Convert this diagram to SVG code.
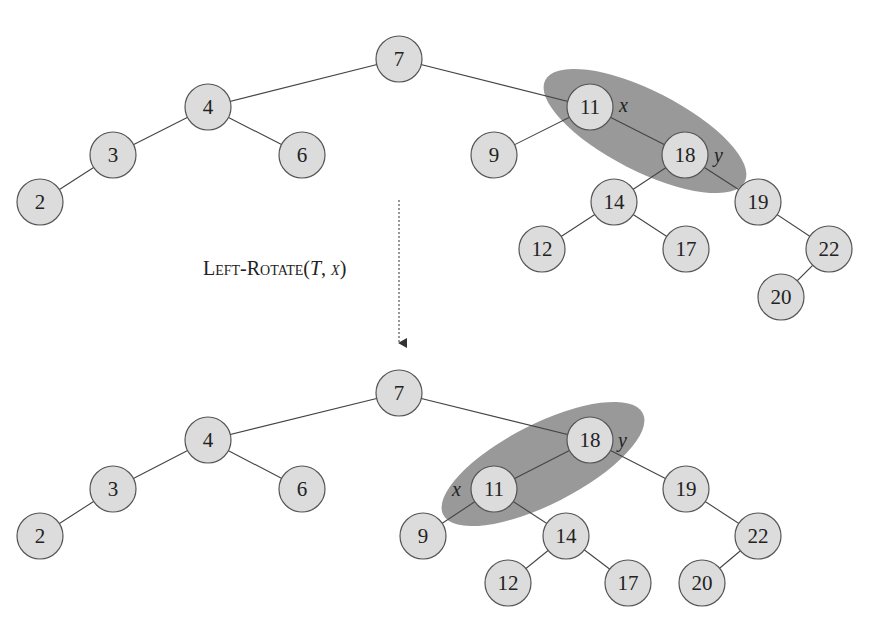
<svg xmlns="http://www.w3.org/2000/svg" width="878" height="618" viewBox="0 0 878 618">
<style>
.n circle{fill:#dcdcdc;stroke:#555;stroke-width:1.2}
.n text{font-family:"Liberation Serif",serif;font-size:21px;text-anchor:middle;fill:#222}
.e line{stroke:#444;stroke-width:1.1}
.lab{font-family:"Liberation Serif",serif;font-style:italic;font-size:20px;fill:#222}
</style>
<defs><marker id="ah" markerWidth="10" markerHeight="10" refX="5" refY="8" orient="auto" markerUnits="userSpaceOnUse"><path d="M0,0 L10,0 L5,9 Z" fill="#333"/></marker></defs>
<rect width="878" height="618" fill="#fff"/>
<ellipse cx="645" cy="131" rx="112" ry="40" transform="rotate(27 645 131)" fill="#999"/>
<ellipse cx="543" cy="464" rx="112" ry="40" transform="rotate(-27 543 464)" fill="#999"/>
<g class="e" id="connectors">
<line x1="399" y1="59" x2="208" y2="107"/><line x1="399" y1="59" x2="590" y2="107"/>
<line x1="208" y1="107" x2="113" y2="155"/><line x1="208" y1="107" x2="302" y2="155"/>
<line x1="113" y1="155" x2="40" y2="202"/>
<line x1="590" y1="107" x2="494" y2="155"/><line x1="590" y1="107" x2="685" y2="155"/>
<line x1="685" y1="155" x2="614" y2="202"/><line x1="685" y1="155" x2="758" y2="202"/>
<line x1="614" y1="202" x2="542" y2="249"/><line x1="614" y1="202" x2="686" y2="249"/>
<line x1="758" y1="202" x2="829" y2="249"/><line x1="829" y1="249" x2="781" y2="297"/>
<line x1="399" y1="393" x2="208" y2="440"/><line x1="399" y1="393" x2="590" y2="440"/>
<line x1="208" y1="440" x2="113" y2="489"/><line x1="208" y1="440" x2="302" y2="489"/>
<line x1="113" y1="489" x2="40" y2="536"/>
<line x1="590" y1="440" x2="494" y2="489"/><line x1="590" y1="440" x2="686" y2="489"/>
<line x1="494" y1="489" x2="423" y2="536"/><line x1="494" y1="489" x2="566" y2="536"/>
<line x1="566" y1="536" x2="508" y2="583"/><line x1="566" y1="536" x2="628" y2="583"/>
<line x1="686" y1="489" x2="758" y2="536"/><line x1="758" y1="536" x2="702" y2="583"/>
<line x1="399" y1="200" x2="399" y2="343" stroke-dasharray="2,2" stroke-width="2" marker-end="url(#ah)"/>
</g>
<g class="n" id="t7"><circle cx="399" cy="59" r="23"/><text x="399" y="66">7</text></g>
<g class="n" id="t4"><circle cx="208" cy="107" r="23"/><text x="208" y="114">4</text></g>
<g class="n" id="t6"><circle cx="302" cy="155" r="23"/><text x="302" y="162">6</text></g>
<g class="n" id="t3"><circle cx="113" cy="155" r="23"/><text x="113" y="162">3</text></g>
<g class="n" id="t2"><circle cx="40" cy="202" r="23"/><text x="40" y="209">2</text></g>
<g class="n" id="t11"><circle cx="590" cy="107" r="23"/><text x="590" y="114">11</text></g>
<g class="n" id="t9"><circle cx="494" cy="155" r="23"/><text x="494" y="162">9</text></g>
<g class="n" id="t18"><circle cx="685" cy="155" r="23"/><text x="685" y="162">18</text></g>
<g class="n" id="t14"><circle cx="614" cy="202" r="23"/><text x="614" y="209">14</text></g>
<g class="n" id="t19"><circle cx="758" cy="202" r="23"/><text x="758" y="209">19</text></g>
<g class="n" id="t12"><circle cx="542" cy="249" r="23"/><text x="542" y="256">12</text></g>
<g class="n" id="t17"><circle cx="686" cy="249" r="23"/><text x="686" y="256">17</text></g>
<g class="n" id="t22"><circle cx="829" cy="249" r="23"/><text x="829" y="256">22</text></g>
<g class="n" id="t20"><circle cx="781" cy="297" r="23"/><text x="781" y="304">20</text></g>
<g class="n" id="b7"><circle cx="399" cy="393" r="23"/><text x="399" y="400">7</text></g>
<g class="n" id="b4"><circle cx="208" cy="440" r="23"/><text x="208" y="447">4</text></g>
<g class="n" id="b6"><circle cx="302" cy="489" r="23"/><text x="302" y="496">6</text></g>
<g class="n" id="b3"><circle cx="113" cy="489" r="23"/><text x="113" y="496">3</text></g>
<g class="n" id="b2"><circle cx="40" cy="536" r="23"/><text x="40" y="543">2</text></g>
<g class="n" id="b18"><circle cx="590" cy="440" r="23"/><text x="590" y="447">18</text></g>
<g class="n" id="b11"><circle cx="494" cy="489" r="23"/><text x="494" y="496">11</text></g>
<g class="n" id="b9"><circle cx="423" cy="536" r="23"/><text x="423" y="543">9</text></g>
<g class="n" id="b14"><circle cx="566" cy="536" r="23"/><text x="566" y="543">14</text></g>
<g class="n" id="b12"><circle cx="508" cy="583" r="23"/><text x="508" y="590">12</text></g>
<g class="n" id="b17"><circle cx="628" cy="583" r="23"/><text x="628" y="590">17</text></g>
<g class="n" id="b19"><circle cx="686" cy="489" r="23"/><text x="686" y="496">19</text></g>
<g class="n" id="b22"><circle cx="758" cy="536" r="23"/><text x="758" y="543">22</text></g>
<g class="n" id="b20"><circle cx="702" cy="583" r="23"/><text x="702" y="590">20</text></g>
<text class="lab" x="619" y="112">x</text>
<text class="lab" x="714" y="162">y</text>
<text class="lab" x="618" y="447">y</text>
<text class="lab" x="452" y="496">x</text>
<text x="203" y="275" font-family="Liberation Serif,serif" font-size="20" fill="#222" style="font-variant:small-caps">Left-Rotate(<tspan font-style="italic">T</tspan>, <tspan font-style="italic">x</tspan>)</text>
</svg>
